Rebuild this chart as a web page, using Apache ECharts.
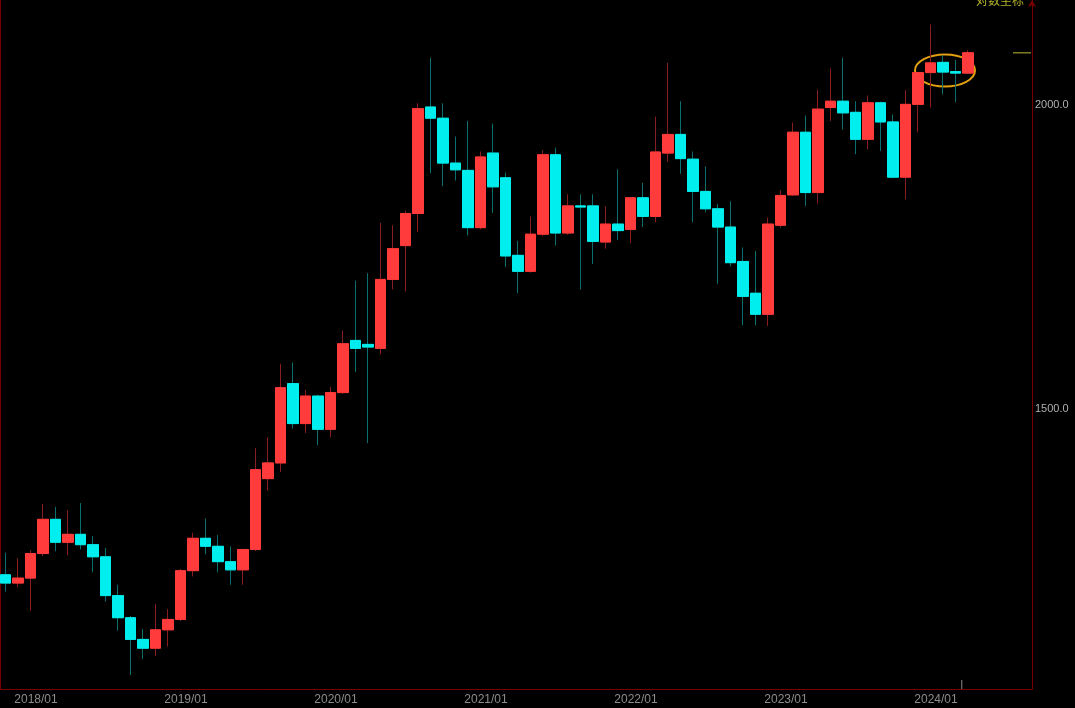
<!DOCTYPE html>
<html>
<head>
<meta charset="utf-8">
<title>月K线 对数坐标</title>
<script src="https://cdn.jsdelivr.net/npm/echarts@6.0.0/dist/echarts.min.js"></script>
<style>
  html, body { margin: 0; padding: 0; background: #000; }
  #main { width: 1075px; height: 708px; }
</style>
</head>
<body>
<div id="main"></div>
<script>
// 月份, 最后几格是右侧留白
const months = [
  '2017/10', '2017/11', '2017/12',
  '2018/01', '2018/02', '2018/03', '2018/04', '2018/05', '2018/06', '2018/07', '2018/08', '2018/09', '2018/10', '2018/11', '2018/12',
  '2019/01', '2019/02', '2019/03', '2019/04', '2019/05', '2019/06', '2019/07', '2019/08', '2019/09', '2019/10', '2019/11', '2019/12',
  '2020/01', '2020/02', '2020/03', '2020/04', '2020/05', '2020/06', '2020/07', '2020/08', '2020/09', '2020/10', '2020/11', '2020/12',
  '2021/01', '2021/02', '2021/03', '2021/04', '2021/05', '2021/06', '2021/07', '2021/08', '2021/09', '2021/10', '2021/11', '2021/12',
  '2022/01', '2022/02', '2022/03', '2022/04', '2022/05', '2022/06', '2022/07', '2022/08', '2022/09', '2022/10', '2022/11', '2022/12',
  '2023/01', '2023/02', '2023/03', '2023/04', '2023/05', '2023/06', '2023/07', '2023/08', '2023/09', '2023/10', '2023/11', '2023/12',
  '2024/01', '2024/02', '2024/03',
  '2024/04', '2024/05', '2024/06', '2024/07', '2024/08'
]

const openP = [
  1283, 1273, 1279,
  1309, 1352, 1323, 1333, 1320, 1305, 1258, 1232, 1207, 1197, 1218, 1230,
  1288, 1328, 1318, 1299, 1289, 1314, 1405, 1426, 1537, 1480, 1519, 1472,
  1524, 1601, 1595, 1589, 1696, 1751, 1805, 1996, 1975, 1893, 1880, 1781,
  1911, 1867, 1735, 1709, 1770, 1908, 1772, 1818, 1818, 1757, 1787, 1778,
  1832, 1800, 1911, 1945, 1900, 1843, 1813, 1782, 1725, 1674, 1641, 1785,
  1837, 1949, 1841, 1995, 2007, 1986, 1936, 2004, 1968, 1868, 2001, 2062,
  2082, 2064, 2061
]
const highP = [
  1310, 1303, 1313,
  1372, 1368, 1364, 1373, 1331, 1316, 1271, 1234, 1219, 1248, 1242, 1290,
  1335, 1353, 1332, 1318, 1315, 1446, 1461, 1566, 1568, 1528, 1521, 1532,
  1616, 1694, 1706, 1789, 1785, 1810, 2003, 2091, 2003, 1941, 1970, 1914,
  1965, 1876, 1759, 1800, 1916, 1921, 1838, 1838, 1838, 1817, 1882, 1833,
  1858, 1978, 2081, 2007, 1914, 1887, 1821, 1826, 1748, 1742, 1798, 1845,
  1967, 1980, 2029, 2070, 2091, 2007, 2018, 2006, 1982, 2028, 2063, 2158,
  2096, 2087, 2106
]
const lowP = [
  1263, 1268, 1240,
  1306, 1312, 1307, 1314, 1286, 1251, 1217, 1167, 1185, 1188, 1199, 1228,
  1281, 1308, 1286, 1271, 1271, 1312, 1389, 1414, 1473, 1467, 1450, 1461,
  1522, 1554, 1453, 1580, 1680, 1677, 1774, 1875, 1852, 1862, 1768, 1778,
  1806, 1716, 1674, 1707, 1767, 1751, 1769, 1680, 1721, 1746, 1760, 1755,
  1782, 1790, 1895, 1874, 1790, 1807, 1689, 1717, 1624, 1624, 1623, 1781,
  1835, 1818, 1822, 1970, 1954, 1909, 1918, 1915, 1866, 1829, 1949, 1995,
  2020, 2005, 2059
]
const closeP = [
  1273, 1279, 1309,
  1352, 1323, 1333, 1320, 1305, 1258, 1232, 1207, 1197, 1218, 1230, 1288,
  1328, 1318, 1299, 1289, 1314, 1417, 1426, 1531, 1480, 1519, 1472, 1524,
  1596, 1589, 1591, 1696, 1746, 1805, 1993, 1975, 1893, 1881, 1781, 1904,
  1851, 1734, 1709, 1770, 1908, 1772, 1818, 1816, 1758, 1787, 1776, 1832,
  1800, 1913, 1945, 1901, 1843, 1813, 1782, 1723, 1669, 1641, 1787, 1836,
  1949, 1841, 1992, 2007, 1985, 1936, 2004, 1968, 1868, 2001, 2062, 2081,
  2063, 2061, 2101
]

// 纵轴刻度
const yTicks = [1500, 2000]

const upColor = '#ff3b3b'
const downColor = '#00eeee'
const upWick = '#8a1e1e'
const downWick = '#0c6e6e'
const frameColor = '#7a0000'

// 对数坐标: 以 1500 为 0, 相邻刻度之比为 1 个单位
const ratio = Math.log(yTicks[1] / yTicks[0])
const T = v => Math.log(v / yTicks[0]) / ratio

const wickData = openP.map((o, i) => [T(o), T(closeP[i]), T(lowP[i]), T(highP[i])])
const bodyData = openP.map((o, i) => [
  T(o), T(closeP[i]), T(Math.min(o, closeP[i])), T(Math.max(o, closeP[i]))
])

const chart = echarts.init(document.getElementById('main'))

const option = {
  backgroundColor: '#000',
  animation: false,
  grid: [
    { left: -0.75, top: 3.4, width: 1037.5, height: 685.1, containLabel: false, outerBoundsMode: 'none' },
    { left: 0, top: 0, width: 1032, height: 689, containLabel: false, outerBoundsMode: 'none' }
  ],
  xAxis: [
    {
      gridIndex: 0,
      type: 'category',
      data: months,
      boundaryGap: true,
      axisLine: { show: false, onZero: false },
      axisTick: { show: false },
      splitLine: { show: false },
      axisLabel: {
        interval: (i, v) => v.endsWith('/01'),
        color: '#8c8c8c',
        fontSize: 12,
        fontFamily: 'Liberation Sans, Arial, sans-serif',
        margin: 5,
        padding: [0, 14, 0, 0]
      }
    },
    {
      // 边框: 底线
      gridIndex: 1,
      type: 'value',
      min: 0,
      max: 1,
      axisLine: { show: true, onZero: false, lineStyle: { color: frameColor, width: 1 } },
      axisTick: { show: false },
      axisLabel: { show: false },
      splitLine: { show: false }
    }
  ],
  yAxis: [
    {
      gridIndex: 0,
      type: 'value',
      position: 'right',
      offset: -4.75,
      min: -11 / 12,
      max: 16 / 12,
      interval: 1 / 12,
      axisLine: { show: false, onZero: false },
      axisTick: { show: false },
      splitLine: { show: false },
      axisLabel: {
        showMinLabel: false,
        showMaxLabel: false,
        color: '#b0b0b0',
        fontSize: 11,
        fontFamily: 'Liberation Sans, Arial, sans-serif',
        margin: 3,
        formatter: v => {
          const hit = yTicks.find(t => Math.abs(T(t) - v) < 1e-6)
          return hit ? hit.toFixed(1) : ''
        }
      }
    },
    {
      // 边框: 左线
      gridIndex: 1,
      type: 'value',
      position: 'left',
      min: 0,
      max: 1,
      axisLine: { show: true, onZero: false, lineStyle: { color: frameColor, width: 1 } },
      axisTick: { show: false },
      axisLabel: { show: false },
      splitLine: { show: false }
    },
    {
      // 边框: 右线带箭头
      gridIndex: 1,
      type: 'value',
      position: 'right',
      min: 0,
      max: 1,
      axisLine: {
        show: true,
        onZero: false,
        symbol: ['none', 'arrow'],
        symbolSize: [6, 7],
        lineStyle: { color: frameColor, width: 1 }
      },
      axisTick: { show: false },
      axisLabel: { show: false },
      splitLine: { show: false }
    }
  ],
  series: [
    {
      // 影线
      name: 'wick',
      type: 'candlestick',
      xAxisIndex: 0,
      yAxisIndex: 0,
      barWidth: 11,
      data: wickData,
      emphasis: { disabled: true },
      itemStyle: {
        color: upWick,
        color0: downWick,
        borderColor: upWick,
        borderColor0: downWick,
        borderWidth: 1
      }
    },
    {
      // 实体
      name: 'body',
      type: 'candlestick',
      xAxisIndex: 0,
      yAxisIndex: 0,
      barWidth: 11,
      data: bodyData,
      emphasis: { disabled: true },
      itemStyle: {
        color: upColor,
        color0: downColor,
        borderColor: upColor,
        borderColor0: downColor,
        borderWidth: 1
      }
    }
  ]
}

chart.setOption(option)

// 标注: 用坐标轴换算位置
const last = closeP.length - 1
const pt = (i, v) => chart.convertToPixel({ gridIndex: 0 }, [i, T(v)])
const lastPt = pt(last, closeP[last])
const ringPt = pt(last - 2, 2066)
const tickX = (pt(last - 1, closeP[last])[0] + lastPt[0]) / 2

chart.setOption({
  graphic: [
    {
      type: 'text',
      x: 976,
      y: -6,
      style: {
        text: '对数坐标',
        fill: '#b3b32a',
        fontSize: 12,
        fontFamily: 'Noto Sans CJK SC, sans-serif'
      }
    },
    {
      type: 'line',
      shape: { x1: 1013, y1: lastPt[1], x2: 1031, y2: lastPt[1] },
      style: { stroke: '#7d7d1e', lineWidth: 1.5 }
    },
    {
      type: 'ellipse',
      shape: { cx: ringPt[0] + 2, cy: ringPt[1], rx: 30, ry: 16 },
      style: { fill: 'none', stroke: '#e0a010', lineWidth: 2 }
    },
    {
      type: 'line',
      shape: { x1: tickX, y1: 680, x2: tickX, y2: 689 },
      style: { stroke: '#8a8a8a', lineWidth: 1 }
    }
  ]
})
</script>
</body>
</html>
